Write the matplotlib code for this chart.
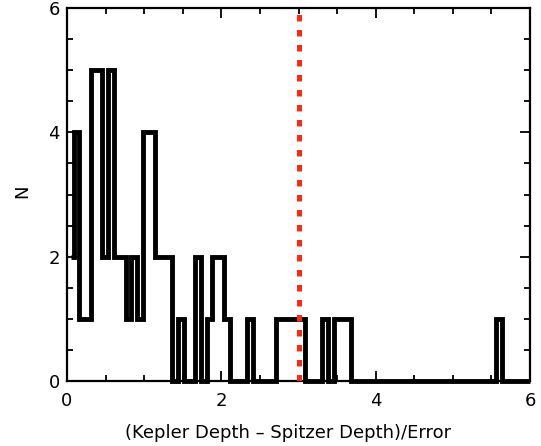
import matplotlib
matplotlib.use("Agg")
import matplotlib.pyplot as plt
import numpy as np
from matplotlib.ticker import MultipleLocator


# histogram of (Kepler depth - Spitzer depth)/error
BIN_START = 0.01
BIN_WIDTH = 0.075
COUNTS = [
    2, 4, 1, 1, 5, 5, 2, 5, 2, 2,
    1, 2, 1, 4, 4, 2, 2, 2, 0, 1,
    0, 0, 2, 0, 1, 2, 2, 1, 0, 0,
    0, 1, 0, 0, 0, 0, 1, 1, 1, 1,
    1, 0, 0, 0, 1, 0, 1, 1, 1, 0,
    0, 0, 0, 0, 0, 0, 0, 0, 0, 0,
    0, 0, 0, 0, 0, 0, 0, 0, 0, 0,
    0, 0, 0, 0, 1, 0, 0, 0, 0, 0,
]
CUT = 3.0
X_MAX = 6.0
Y_MAX = 6.0
X_LABEL = "(Kepler Depth \u2013 Spitzer Depth)/Error"
Y_LABEL = "N"


def main():
    counts = np.array(COUNTS, dtype=float)
    edges = BIN_START + BIN_WIDTH * np.arange(len(counts) + 1)

    # IDL psym=10 style: steps between bin centres, half bins at the ends
    x = np.repeat(edges, 2)[1:-1]
    y = np.repeat(counts, 2)
    x[0] = edges[0] + BIN_WIDTH / 2
    x = np.minimum(x, X_MAX)

    fig = plt.figure(figsize=(5.41, 4.46), dpi=100)
    ax = fig.add_axes([67 / 541, 65 / 446, 463 / 541, 373 / 446])

    ax.plot(x, y, color="black", lw=3.5, solid_joinstyle="miter",
            solid_capstyle="butt", clip_on=False, zorder=3)
    ax.axvline(CUT, color="#ff2a14", lw=3.6, linestyle=(0, (1.3, 1.7)),
               zorder=4)

    ax.set_xlim(0, X_MAX)
    ax.set_ylim(0, Y_MAX)
    ax.xaxis.set_major_locator(MultipleLocator(2))
    ax.xaxis.set_minor_locator(MultipleLocator(0.5))
    ax.yaxis.set_major_locator(MultipleLocator(2))
    ax.yaxis.set_minor_locator(MultipleLocator(0.5))
    ax.tick_params(which="both", direction="in", top=True, right=True,
                   width=1.3, color="black", labelsize=13)
    ax.tick_params(which="major", length=7)
    ax.tick_params(which="minor", length=4)
    ax.tick_params(axis="x", which="major", pad=8)
    ax.tick_params(axis="y", which="major", pad=5)
    for s in ax.spines.values():
        s.set_linewidth(1.6)

    ax.set_xlabel(X_LABEL, fontsize=13)
    ax.xaxis.set_label_coords(0.477, -0.115)
    ax.set_ylabel(Y_LABEL, fontsize=13)
    ax.yaxis.set_label_coords(-0.077, 0.51)

    fig.canvas.draw()
    labels = ax.get_yticklabels()
    labels[0].set_verticalalignment("bottom")
    labels[-1].set_verticalalignment("top")

    fig.savefig("out.png", dpi=100)
    plt.close(fig)


if __name__ == "__main__":
    main()
